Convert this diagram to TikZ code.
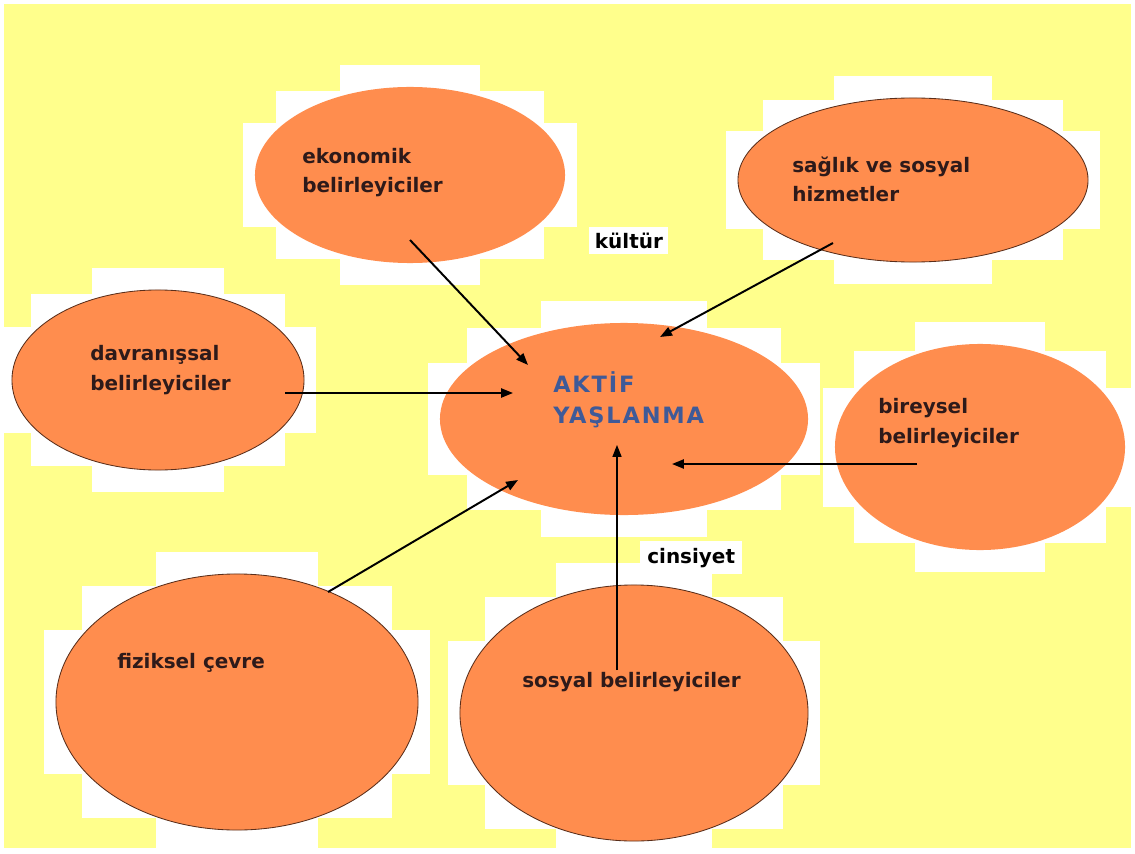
\documentclass[tikz,border=0pt]{standalone}
\usepackage{fontspec}
\setmainfont{DejaVu Sans}
\usetikzlibrary{positioning,arrows.meta,shapes.geometric,calc}
\definecolor{PaperYellow}{HTML}{FFFF8C}
\definecolor{BubbleOrange}{HTML}{FF8D4E}
\definecolor{BubbleEdge}{HTML}{5A2E1A}
\definecolor{TextBrown}{HTML}{2E1A1A}
\definecolor{AgingBlue}{HTML}{3F5A98}

\begin{document}
\begin{tikzpicture}[x=0.025cm,y=-0.025cm,
    bubble/.style={ellipse,fill=BubbleOrange,inner sep=0pt},
    rim/.style={draw=BubbleEdge,line width=0.6pt},
    caption/.style={anchor=base west,align=left,inner sep=0pt,text=TextBrown,
      font=\fontsize{14.2}{21.3}\selectfont\bfseries},
    feed/.style={-{Triangle[length=8.5pt,width=6.5pt]},line width=1.4pt,black}]
  \useasboundingbox (0,0) rectangle (1135,853);
  \fill[PaperYellow] (4,4) rectangle (1131,848);

  % white halos behind the bubbles
  \foreach \cx/\cy/\rx/\ry in {410/175/155/88, 913/180/175/82, 158/380/146/90,
      624/419/184/96, 980/447/145/103, 237/702/181/128, 634/713/174/128}{
    \fill[white] (\cx-0.45*\rx,\cy-\ry-22) rectangle (\cx+0.45*\rx,\cy+\ry+22);
    \fill[white] (\cx-0.8*\rx-10,\cy-0.8*\ry-14) rectangle (\cx+0.8*\rx+10,\cy+0.8*\ry+14);
    \fill[white] (\cx-\rx-12,\cy-0.5*\ry-8) rectangle (\cx+\rx+12,\cy+0.5*\ry+8);
  }

  % bubbles
  \node[bubble,minimum width=7.75cm,minimum height=4.4cm] (eko) at (410,175) {};
  \node[bubble,rim,minimum width=8.75cm,minimum height=4.1cm] (sag) at (913,180) {};
  \node[bubble,rim,minimum width=7.3cm,minimum height=4.5cm] (dav) at (158,380) {};
  \node[bubble,minimum width=9.2cm,minimum height=4.8cm] (akt) at (624,419) {};
  \node[bubble,minimum width=7.25cm,minimum height=5.15cm] (bir) at (980,447) {};
  \node[bubble,rim,minimum width=9.05cm,minimum height=6.4cm] (fiz) at (237,702) {};
  \node[bubble,rim,minimum width=8.7cm,minimum height=6.4cm] (sos) at (634,713) {};

  % texts (base = last line)
  \node[caption] (eko-txt) at (302,193) {ekonomik\\belirleyiciler};
  \node[caption] (sag-txt) at (792,202) {sağlık ve sosyal\\hizmetler};
  \node[caption] (dav-txt) at (90,390) {davranışsal\\belirleyiciler};
  \node[caption] (bir-txt) at (878,443) {bireysel\\belirleyiciler};
  \node[caption] (fiz-txt) at (117,668) {fiziksel çevre};
  \node[caption] (sos-txt) at (522,687) {sosyal belirleyiciler};
  \node[caption,text=AgingBlue,font=\fontsize{16}{22}\selectfont\bfseries\addfontfeature{LetterSpace=8}]
    (akt-txt) at (553,423) {AKTİF\\YAŞLANMA};
  \node[caption,text=black,fill=white,inner sep=4pt] (kultur) at (589,248) {kültür};
  \node[caption,text=black,fill=white,inner sep=5pt] (cins) at (640,563) {cinsiyet};

  % arrow ends
  \coordinate (eko-out) at (410,240);
  \coordinate (eko-in) at (528,365);
  \coordinate (sag-out) at (833,243);
  \coordinate (sag-in) at (660,337);
  \coordinate (dav-out) at (285,393);
  \coordinate (dav-in) at (513,393);
  \coordinate (bir-out) at (917,464);
  \coordinate (bir-in) at (672,464);
  \coordinate (fiz-out) at (328,592);
  \coordinate (fiz-in) at (518,480);
  \coordinate (sos-out) at (617,670);
  \coordinate (sos-in) at (617,445);

  \draw[feed] (eko-out) -- (eko-in);
  \draw[feed] (sag-out) -- (sag-in);
  \draw[feed] (dav-out) -- (dav-in);
  \draw[feed] (bir-out) -- (bir-in);
  \draw[feed] (fiz-out) -- (fiz-in);
  \draw[feed,line width=0.8pt] (sos-out) -- (sos-in);
\end{tikzpicture}
\end{document}
